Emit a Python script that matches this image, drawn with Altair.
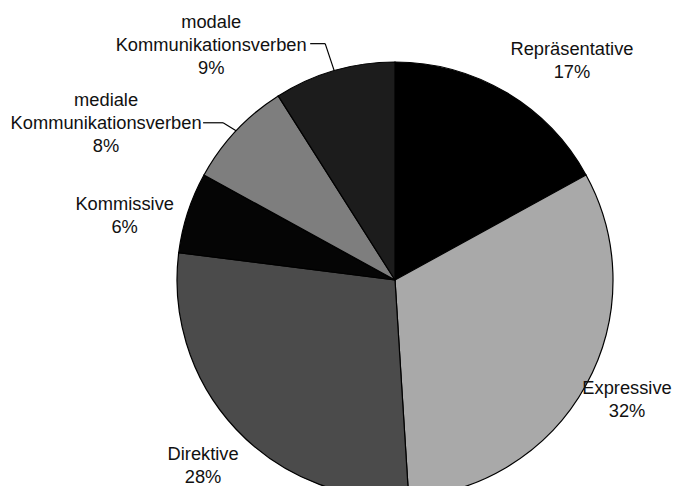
import altair as alt
import pandas as pd

# ---- data ----
CATEGORIES = [
    "Repräsentative",
    "Expressive",
    "Direktive",
    "Kommissive",
    "mediale Kommunikationsverben",
    "modale Kommunikationsverben",
]
PERCENT = [17, 32, 28, 6, 8, 9]
SLICE_COLORS = ["#000000", "#a9a9a9", "#4b4b4b", "#050505", "#7e7e7e", "#1c1c1c"]

# ---- layout (pixels, svg coordinates) ----
CX, CY, R = 387, 272, 218
# first-line position of each label, offset from the slice's outer edge point at its mid angle
LABEL_OFF = {
    "Repräsentative": (66, -42),
    "Expressive": (41, 4),
    "Direktive": (-33, 26),
    "Kommissive": (-63, -8),
    "mediale Kommunikationsverben": (-130, -30),
    "modale Kommunikationsverben": (-123, -48),
}
# leader lines: (elbow dx, elbow dy, end dx) relative to edge point
LEADER = {
    "mediale Kommunikationsverben": (-13, -8, -33),
    "modale Kommunikationsverben": (-9, -27, -24),
}

rows = []
for i, (c, p) in enumerate(zip(CATEGORIES, PERCENT)):
    lab = c.replace(" ", "\n") + "\n" + f"{p}%"
    ox, oy = LABEL_OFF[c]
    el = LEADER.get(c, (0, 0, 0))
    rows.append(dict(cat=c, value=p, idx=i, label=lab, ox=ox, oy=oy,
                     elx=el[0], ely=el[1], endx=el[2], lead=int(c in LEADER)))
df = pd.DataFrame(rows)

pie = alt.Chart(df).mark_arc(radius=R, stroke="#000000", strokeWidth=1.2).encode(
    theta=alt.Theta("value:Q", stack=True),
    order=alt.Order("idx:Q"),
    color=alt.Color("cat:N", scale=alt.Scale(domain=CATEGORIES, range=SLICE_COLORS), legend=None),
    x=alt.value(CX),
    y=alt.value(CY),
)

base = alt.Chart(df).transform_joinaggregate(
    total="sum(value)"
).transform_window(
    cum="sum(value)", sort=[alt.SortField("idx")]
).transform_calculate(
    mid="(datum.cum - datum.value/2) / datum.total * 2 * PI"
).transform_calculate(
    ex=f"{CX} + {R} * sin(datum.mid)",
    ey=f"{CY} - {R} * cos(datum.mid)",
)

text = base.transform_calculate(
    tx="datum.ex + datum.ox",
    ty="datum.ey + datum.oy",
).mark_text(
    align="center", baseline="middle", fontSize=18.3, font="Liberation Sans",
    lineBreak="\n", lineHeight=23, color="#111111"
).encode(
    x=alt.X("tx:Q", scale=None, axis=None),
    y=alt.Y("ty:Q", scale=None, axis=None),
    text=alt.Text("label:N"),
)

leads = base.transform_filter("datum.lead == 1").transform_calculate(
    bx="datum.ex + datum.elx",
    by="datum.ey + datum.ely",
    fx="datum.ex + datum.endx",
)

rule1 = leads.mark_rule(color="#000000", strokeWidth=1.2).encode(
    x=alt.X("ex:Q", scale=None, axis=None),
    y=alt.Y("ey:Q", scale=None, axis=None),
    x2="bx:Q",
    y2="by:Q",
)
rule2 = leads.mark_rule(color="#000000", strokeWidth=1.2).encode(
    x=alt.X("bx:Q", scale=None, axis=None),
    y=alt.Y("by:Q", scale=None, axis=None),
    x2="fx:Q",
    y2="by:Q",
)

chart = alt.layer(pie, rule1, rule2, text).properties(
    width=673, height=478, autosize="none", padding=0
).configure_view(stroke=None)

chart.save("out.html", embed_options={"renderer": "svg", "actions": False})
